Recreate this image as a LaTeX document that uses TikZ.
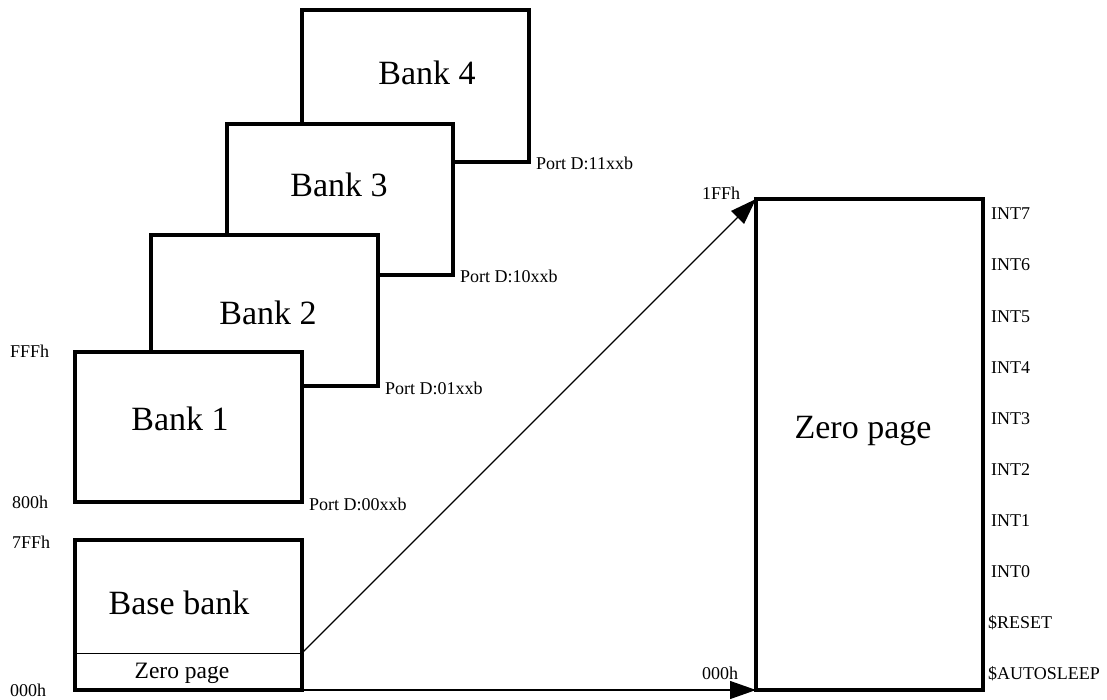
\documentclass[tikz,border=0pt]{standalone}
\usepackage{fontspec}
\setmainfont{Liberation Serif}
\usetikzlibrary{arrows.meta}
\begin{document}
\begin{tikzpicture}[x=1pt,y=-1pt,
  box/.style={draw=black,line width=4pt,fill=white,rectangle,inner sep=0pt,outer sep=0pt,anchor=north west},
  bigtxt/.style={font=\fontsize{34}{40}\selectfont,anchor=base,inner sep=0pt},
  midtxt/.style={font=\fontsize{23.5}{28}\selectfont,anchor=base,inner sep=0pt},
  smalltxt/.style={font=\fontsize{18}{21}\selectfont,anchor=base west,inner sep=0pt},
  arrowline/.style={line width=1.2pt,-{Triangle[length=26pt,width=18pt]}}]
\useasboundingbox (0,0) rectangle (1107,700);
% banks (back to front)
\node[box,minimum width=227pt,minimum height=152pt] (b4) at (302,10) {};
\node[box,minimum width=226pt,minimum height=151pt] (b3) at (227,124) {};
\node[box,minimum width=227pt,minimum height=151pt] (b2) at (151,235) {};
\node[box,minimum width=227pt,minimum height=150pt] (b1) at (75,352) {};
\node[bigtxt] (t4) at (427,85) {Bank 4};
\node[bigtxt] (t3) at (339,197) {Bank 3};
\node[bigtxt] (t2) at (268,324) {Bank 2};
\node[bigtxt] (t1) at (180,430) {Bank 1};
% base bank
\node[box,minimum width=227pt,minimum height=150pt] (base) at (75,540) {};
\coordinate (sepL) at (75,653);
\coordinate (sepR) at (302,653);
\draw[line width=1pt] (sepL) -- (sepR);
\node[bigtxt] (tbase) at (179,614) {Base bank};
\node[midtxt] (tzp) at (182,678) {Zero page};
% zero page
\node[box,minimum width=227pt,minimum height=491pt] (zp) at (756,199) {};
\node[bigtxt] (tzpbig) at (863,438) {Zero page};
% arrows
\draw[arrowline] (sepR) -- (zp.north west);
\draw[arrowline] (base.south east) -- (zp.south west);
% left address labels
\node[smalltxt] (aFFF) at (10,357) {FFFh};
\node[smalltxt] (a800) at (12,508) {800h};
\node[smalltxt] (a7FF) at (12,548) {7FFh};
\node[smalltxt] (a000) at (10,696) {000h};
\node[smalltxt] (z1FF) at (702,200) {1FFh};
\node[smalltxt] (z000) at (702,679) {000h};
% port labels
\node[smalltxt] (p1) at (309,510) {Port D:00xxb};
\node[smalltxt] (p2) at (385,394) {Port D:01xxb};
\node[smalltxt] (p3) at (460,283) {Port D:10xxb};
\node[smalltxt] (p4) at (536,170) {Port D:11xxb};
% vectors
\node[smalltxt] (i7) at (991,220) {INT7};
\node[smalltxt] (i6) at (991,271) {INT6};
\node[smalltxt] (i5) at (991,322) {INT5};
\node[smalltxt] (i4) at (991,373) {INT4};
\node[smalltxt] (i3) at (991,424) {INT3};
\node[smalltxt] (i2) at (991,475) {INT2};
\node[smalltxt] (i1) at (991,526) {INT1};
\node[smalltxt] (i0) at (991,577) {INT0};
\node[smalltxt] (irst) at (988,628) {\$RESET};
\node[smalltxt] (iaut) at (988,679) {\$AUTOSLEEP};
\end{tikzpicture}
\end{document}
